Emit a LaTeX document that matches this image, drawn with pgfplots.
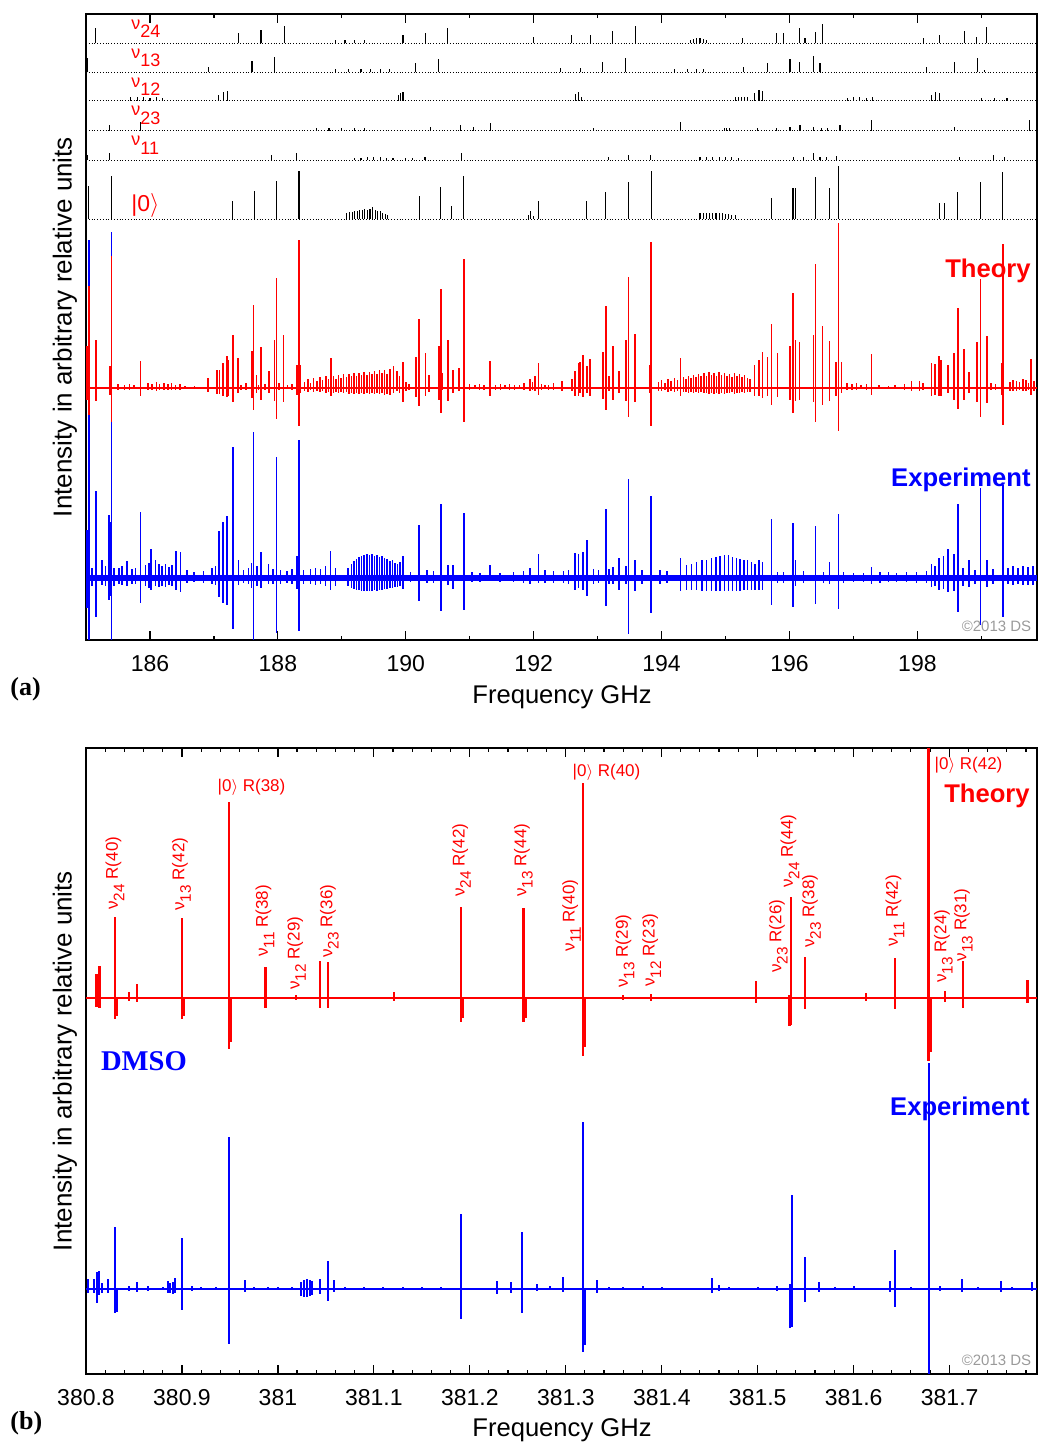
\documentclass[border=0pt]{standalone}
\usepackage{fontspec}
\setmainfont{Liberation Sans}
\newfontfamily\timesfont{Liberation Serif}
\usepackage{graphicx}
\usepackage{pgfplots}
\pgfplotsset{compat=1.18}

\definecolor{specred}{HTML}{FF0000}
\definecolor{specblue}{HTML}{0000FF}
\definecolor{credit}{HTML}{9A9A9A}

% nu with a lowered index: panel (a) rows and panel (b) line labels
\newcommand\va[1]{ν\raisebox{-0.48em}{#1}}
\newcommand\vb[1]{ν\raisebox{-0.38em}{\scalebox{0.9}{#1}}}

\pgfplotsset{
  nomark/.style={only marks, mark=*, mark size=0pt, mark options={draw=none, fill=none}},
  spec/.style={nomark, error bars/.cd, y dir=both, y explicit,
    error mark=none, error bar style={#1}},
  stick/.style={nomark, error bars/.cd, y dir=plus, y explicit,
    error mark=none, error bar style={black, line width=0.55pt}},
  panel/.style={
    scale only axis, width=475.5pt, height=313pt, anchor=south west,
    ymin=0, ymax=626, ytick=\empty,
    tick align=inside, major tick length=4.3pt, minor tick length=2.2pt,
    axis line style={line width=0.9pt},
    every tick/.style={black, line width=0.6pt},
    xticklabel style={font=\fontsize{11.5}{12}\selectfont, yshift=-4pt},
    /pgf/number format/assume math mode=true,
    scaled x ticks=false,
  },
}
\tikzset{
  lab/.style={text=specred, font=\fontsize{8.5}{9}\selectfont, inner sep=0pt},
  big/.style={font=\fontsize{12.8}{13}\selectfont\bfseries, inner sep=0pt},
}

\begin{document}
\begin{tikzpicture}
%% ---------------- panel (a) ----------------
\begin{axis}[panel, at={(43pt,401.5pt)},
  xmin=185, xmax=199.87,
  xtick={186,188,...,198}, minor xtick={185,187,...,199}]

% stick spectra
\addplot[black, densely dotted, line width=0.4pt] coordinates {(185,421) (199.87,421)};
\addplot[stick] table[x=x, y expr=421, y error plus=h] {
x h
185.044 32.7
185.398 42.7
187.294 18.3
187.628 27.7
187.977 37.7
188.331 47.7
189.08 6
189.12 7
189.16 7
189.20 8
189.24 8
189.28 9
189.32 9
189.36 10
189.40 9
189.44 10
189.48 12
189.52 9
189.56 8
189.60 8
189.64 6
189.68 5
189.72 4
190.211 22.7
190.549 31.7
190.721 12.7
190.909 42.7
191.92 4
191.945 7.7
192.00 3
192.076 17.7
192.831 17.7
193.128 26.7
193.482 36.7
193.836 47.7
194.60 6
194.65 6
194.70 6
194.75 6
194.80 6
194.85 6
194.90 6
194.95 6
195.00 5
195.05 5
195.10 4
195.15 4
195.716 21
196.055 31
196.091 31
196.409 41.7
196.622 31
196.763 52.7
198.351 16
198.430 16
198.633 26.7
198.987 36.7
199.336 47
};
\addplot[black, densely dotted, line width=0.4pt] coordinates {(185,480) (199.87,480)};
\addplot[stick] table[x=x, y expr=480, y error plus=h] {
x h
185.018 5
185.372 6.7
187.898 5
188.289 7.3
189.2 2.3
189.3 2.3
189.4 2.5
189.5 2.5
189.6 2.5
189.7 2.3
189.8 2.3
190.0 2
190.1 2
190.3 2.5
190.878 6.7
193.169 3.3
193.482 5
193.831 5
194.6 2.5
194.7 2.7
194.8 2.7
194.9 2.7
195.0 2.7
195.1 2.5
195.2 2.3
196.060 3.3
196.216 3.3
196.372 6.7
196.477 3.3
196.581 3.3
196.737 4
198.664 3.3
199.185 5
199.367 3
};
\addplot[black, densely dotted, line width=0.4pt] coordinates {(185,509.3) (199.87,509.3)};
\addplot[stick] table[x=x, y expr=509.3, y error plus=h] {
x h
185.372 5.7
185.852 9
188.6 2.3
188.8 2.5
189.0 2.5
189.2 2.3
189.35 2.3
190.383 4
190.852 5.7
191.060 4
191.320 7.3
192.935 2.3
194.289 9
194.98 2.5
195.02 2.5
195.06 2.3
195.5 2.3
195.8 2.3
196.008 4
196.164 5.7
196.372 4
196.5 2.5
196.6 2.5
196.789 5.7
197.284 10.7
198.586 4
199.758 10.7
};
\addplot[black, densely dotted, line width=0.4pt] coordinates {(185,539.3) (199.87,539.3)};
\addplot[stick] table[x=x, y expr=539.3, y error plus=h] {
x h
185.70 3.3
185.80 3.3
185.90 3.3
186.00 3
186.10 3.3
186.20 3
187.076 5.7
187.143 9
187.206 10
189.888 5.7
189.914 8
189.956 9
192.648 6.7
192.700 9
192.753 4
195.15 3.3
195.20 3.3
195.25 3.3
195.30 3.3
195.35 3.5
195.450 8
195.523 10.7
195.581 10
196.90 3
197.00 3.3
197.10 3.3
197.20 3
197.30 3.3
198.221 5.7
198.289 9
198.341 7.3
199.0 3
199.2 3
199.4 3
};
\addplot[black, densely dotted, line width=0.4pt] coordinates {(185,567.7) (199.87,567.7)};
\addplot[stick] table[x=x, y expr=567.7, y error plus=h] {
x h
185.018 14
186.909 5
187.596 11.7
187.951 15.7
188.9 3
189.1 3
189.3 3
189.45 3.3
189.6 3.3
189.75 3
190.159 9.7
190.518 13
192.414 4
192.727 4
193.081 10.7
193.440 14.7
194.2 3
194.4 3.3
194.55 3.3
194.65 3.3
195.279 5.7
195.654 9.7
196.008 13
196.154 10.7
196.372 16.7
196.477 9
198.143 5
198.575 10.7
198.935 14.7
199.05 2.5
};
\addplot[black, densely dotted, line width=0.4pt] coordinates {(185,596.7) (199.87,596.7)};
\addplot[stick] table[x=x, y expr=596.7, y error plus=h] {
x h
185.148 15
187.378 10
187.737 13.3
188.102 17.3
188.9 3
189.05 3.3
189.2 3.3
189.35 3
189.956 8.3
190.305 10.7
190.659 15
191.997 6.7
192.596 8.3
192.883 8.3
193.237 12.7
193.586 17.3
194.45 3
194.50 4
194.55 5
194.60 5
194.65 4
194.70 3
195.268 5
195.800 10.7
195.904 10.7
196.154 15
196.243 5
196.409 11.7
196.513 19.3
198.091 5
198.351 8.3
198.732 12.7
198.925 6.7
199.086 16.7
};

% experiment
\addplot[specblue, line width=3.4pt] coordinates {(185,62) (199.87,62)};
\addplot[spec={specblue, line width=0.75pt}] table[x=x, y expr=62, y error plus=hi, y error minus=lo] {
x hi lo
185.018 48.3 30
185.044 338.3 70
185.096 10 8
185.159 86.7 39
185.253 18.3 6.7
185.305 12 8
185.357 63.3 21.7
185.383 55.7 18.3
185.398 346 70
185.435 10 8
185.513 10 6
185.565 12 7
185.643 16.7 8.3
185.721 9 6
185.773 10 6
185.852 66.3 25
185.930 13 8
185.982 15 10
186.018 29.3 11.7
186.086 18.3 8.3
186.138 14 9
186.190 12 8
186.242 14 9
186.294 11 7
186.346 13 8
186.409 26.7 12.3
186.477 26.3 14.3
186.581 8 5
186.685 6 4
186.841 7 5
186.971 10 6
187.023 12 7
187.076 47.3 19
187.143 55.7 25
187.206 62.3 26.7
187.299 131 51
187.388 18.3 7
187.466 8 5
187.544 10 6
187.586 15 10
187.622 146.3 62
187.674 12 8
187.737 25.7 10
187.857 14 6
187.924 9 6
187.977 121 55
188.039 8 6
188.143 7 5
188.221 9 6
188.299 22.3 11
188.331 138 53.3
188.404 8 6
188.508 9 6
188.586 10 7
188.664 9 6
188.742 12 8
188.820 26.7 11.7
188.898 10 8
189.10 10 8
189.15 14 10
189.19 17 11
189.23 19 12
189.27 21 12
189.31 22 13
189.35 23 13
189.39 24 13
189.43 23 13
189.47 24 13
189.51 22 12
189.55 23 13
189.59 21 12
189.63 22 12
189.67 20 11
189.71 19 11
189.75 17 10
189.79 18 10
189.83 15 9
189.87 14 9
189.91 16 8
189.956 22.3 11
190.07 6 4
190.206 53.3 22.7
190.331 8 5
190.435 7 5
190.549 74.3 33.3
190.659 13.3 6.7
190.737 13.3 11
190.909 64.7 32.3
191.034 6 4
191.164 5 4
191.320 13.3 1.7
191.477 5 4
191.685 6 4
191.841 7 5
191.945 10 6
192.076 24.3 5
192.18 8 5
192.31 7 5
192.466 7 5
192.544 8 6
192.648 25 12.3
192.700 24.3 10
192.768 26 12
192.831 37.7 18.3
192.935 9 6
193.013 8 5
193.128 68.7 28
193.180 9.3 6
193.237 11 6
193.336 20.3 12.3
193.440 11.7 6
193.482 98.7 56
193.586 18.3 13
193.690 8 6
193.836 81.7 35
193.977 8 6
194.081 7 5
194.299 20.3 13
194.393 12.7 12
194.471 14.3 12
194.549 16 12
194.628 17.7 13
194.706 17.7 13
194.784 20 13
194.852 21 13
194.914 21.7 13
194.982 22.7 13
195.044 23.3 13
195.112 21 13
195.174 20 13
195.227 19.3 13
195.289 17.7 12
195.346 17.7 12
195.409 16 12
195.461 14.3 12
195.523 17.7 12
195.581 16 12
195.716 58.7 26.7
195.810 6 5
195.904 6 5
196.055 55.3 29
196.091 18.3 8
196.216 7 5
196.409 51.7 25.7
196.529 6 5
196.622 16 6
196.763 63.7 30.7
196.841 6 5
196.998 5 4
197.154 5 4
197.284 11 6
197.414 6 5
197.544 6 4
197.674 5 4
197.831 6 4
197.987 6 5
198.143 7 5
198.221 14.3 9
198.273 12 8
198.341 20 12
198.404 22 11
198.482 28.7 14
198.575 23.7 13
198.633 74.3 34
198.716 10 8
198.805 18.3 9
198.899 8 6
198.987 90.3 47.3
199.086 17.7 9
199.185 9 6
199.336 92.7 39
199.419 10 6
199.497 12 7
199.575 10 6
199.654 12 7
199.732 11 7
199.810 12 7
};

% theory
\addplot[specred, line width=0.9pt] coordinates {(185,252) (199.87,252)};
\addplot[spec={specred, line width=0.75pt}] table[x=x, y expr=252, y error plus=hi, y error minus=lo] {
x hi lo
185.018 42.3 11.7
185.044 101.7 26.7
185.159 48.3 13.3
185.372 21.7 6.7
185.398 132.3 34.3
185.50 4 2
185.60 3 2
185.68 4 2
185.75 3 1
185.852 27.3 8.3
185.97 5 2
186.03 4 2
186.10 6 3
186.15 4 2
186.22 5 2
186.28 4 2
186.34 5 2
186.40 3 2
186.47 4 2
186.55 2 1
186.70 2 1
186.909 10 4.3
187.049 18.3 5.7
187.091 18.3 5.7
187.143 25 7.7
187.206 32.3 9
187.227 27.7 8.3
187.299 53.3 14.3
187.378 30 5
187.42 3 2
187.50 5 2
187.596 37.3 10
187.622 83.3 22.3
187.664 13.3 5
187.70 3 2
187.737 41.3 11.7
187.80 4 2
187.862 17.3 5
187.951 48.3 13.3
187.977 110.3 31
188.02 5 2
188.091 53 14.3
188.15 3 1
188.22 4 2
188.299 22.7 6.7
188.331 147.7 38.3
188.352 23.3 5
188.42 6 3
188.47 9 4
188.51 5 2
188.56 10 4
188.61 7 3
188.66 11 4
188.70 8 3
188.75 12 5
188.79 9 4
188.831 30.3 7.7
188.87 12 5
188.91 9 4
188.95 13 5
188.99 10 4
189.03 14 5
189.07 11 4
189.11 14 6
189.15 12 5
189.19 15 6
189.23 12 5
189.27 15 6
189.31 13 5
189.35 16 6
189.39 13 5
189.43 16 6
189.47 14 5
189.51 17 6
189.55 14 5
189.59 18 6
189.63 15 5
189.67 18 7
189.71 14 6
189.75 19 7
189.810 21.7 5
189.862 16.7 3.3
189.90 12 5
189.956 26 14.3
190.00 6 3
190.05 4 2
190.159 31 9
190.206 69 18.3
190.305 35 8.3
190.362 13 3.7
190.518 41.7 11.7
190.549 99.3 25
190.576 15 1.7
190.659 48 12.7
190.737 18.3 5
190.836 20 3.3
190.909 129.3 34
191.00 4 2
191.08 3 1
191.15 4 2
191.22 3 2
191.320 27.3 7.7
191.40 3 2
191.48 4 2
191.55 3 1
191.62 4 2
191.70 3 2
191.78 3 1
191.85 5 2
191.945 9 3.3
191.98 6 2
192.023 11.7 3.3
192.076 25 7.3
192.12 4 2
192.18 3 1
192.232 3.3 2.3
192.310 5 2.3
192.440 7.3 3.3
192.596 9 3.3
192.648 16.7 7.7
192.700 25 7.7
192.727 25.7 5
192.768 32.7 9
192.831 21.7 5
192.883 29.3 7.7
193.081 35.7 11
193.128 82.3 21.7
193.180 12.3 3.3
193.237 41.7 11.7
193.336 16.7 5
193.440 47.7 13.3
193.482 111 29.3
193.586 54.3 14.3
193.810 23 5
193.836 145.7 38.3
193.95 6 3
194.00 8 3
194.05 5 2
194.10 9 4
194.15 7 3
194.20 10 4
194.25 8 3
194.299 30 8.3
194.34 11 4
194.38 9 4
194.42 12 5
194.46 10 4
194.50 13 5
194.54 11 4
194.58 14 5
194.62 12 4
194.66 15 5
194.70 12 5
194.74 16 6
194.78 13 5
194.82 15 6
194.86 12 5
194.90 16 6
194.94 13 5
194.98 15 6
195.02 12 5
195.06 14 5
195.10 11 4
195.14 15 6
195.18 12 5
195.22 14 5
195.26 11 4
195.30 13 5
195.34 10 4
195.38 9 4
195.450 23 7.7
195.523 28.3 8.3
195.581 36.3 10
195.654 30.7 8.3
195.716 64 17
195.810 35 9.3
196.008 41.7 11.7
196.055 95 25
196.091 47.7 13.3
196.154 45.7 11.7
196.372 53.3 14.3
196.409 123.7 34
196.513 62.3 17
196.622 47 13.3
196.727 26 7.7
196.763 165 43.3
196.815 26 5
196.90 5 2
196.98 4 2
197.05 5 2
197.12 3 1
197.20 4 2
197.284 34 6.7
197.40 3 1
197.55 2 1
197.65 3 1
197.80 4 2
197.909 6.7 3.3
198.029 6.7 3.3
198.09 5 2
198.221 25 7.7
198.273 24 6.7
198.341 31.7 8.3
198.367 28.3 7.7
198.482 22.7 5
198.575 35 11.7
198.633 80 20.7
198.732 39.3 11.7
198.805 16 5
198.935 46 14.3
198.987 109 29
199.086 52.3 15
199.15 5 2
199.22 4 2
199.315 25 6.7
199.336 144 37.3
199.45 6 3
199.497 8.3 3.3
199.55 7 3
199.60 6 2
199.654 9 3.3
199.70 8 3
199.74 5 2
199.779 29 6.7
199.82 7 3
};
\end{axis}

%% ---------------- panel (b) ----------------
\begin{axis}[panel, at={(43pt,34.5pt)},
  xmin=380.8, xmax=381.791,
  xtick={380.8,380.9,381,381.1,381.2,381.3,381.4,381.5,381.6,381.7},
  minor xtick={380.82,380.84,...,381.78},
  xticklabel style={/pgf/number format/.cd, fixed, precision=1}]

\addplot[specblue, line width=1.1pt] coordinates {(380.8,85) (381.791,85)};
\addplot[spec={specblue, line width=1pt}] table[x=x, y expr=85, y error plus=hi, y error minus=lo] {
x hi lo
380.802 10 4
380.808 9.7 4
380.811 16.7 14.3
380.814 18 6
380.817 6 4
380.823 10 3.7
380.830 62.3 23.7
380.832 0 23
380.845 3 2
380.853 7.3 3
380.865 3 2
380.880 2 1
380.885 8 4
380.888 6 4
380.891 7 5
380.893 10.7 4
380.900 51.3 21
380.910 3 2
380.920 2 1
380.935 2 1
380.949 151.7 55.3
380.966 9 3
380.975 2 1
380.990 2 1
381.000 2 1
381.015 2 1
381.024 7 7
381.027 9 7.7
381.030 10 8
381.033 9 7
381.036 8 6
381.044 10 5
381.052 28 12
381.058 9 3
381.070 2 1
381.090 2 1
381.110 2 1
381.130 2 1
381.150 2 1
381.170 2 1
381.191 75 30.3
381.228 8 5
381.243 7 4
381.254 56.7 23.7
381.270 5 2
381.283 3 1
381.297 11.7 3
381.318 166.7 62.7
381.320 0 56
381.332 9 4
381.345 2 1
381.360 2 1
381.380 3 1
381.400 2 1
381.452 11.3 4
381.460 4 2
381.470 2 1
381.500 2 1
381.520 3 2
381.534 5 39.3
381.536 93.7 37.7
381.549 31.7 12.7
381.564 7 3
381.580 2 1
381.600 3 1
381.638 7.7 3
381.643 38.7 17.7
381.660 2 1
381.678 226 85
381.690 3 2
381.713 10 3
381.730 2 1
381.753 8 3
381.765 2 1
381.786 6.7 2
};

\addplot[specred, line width=1pt] coordinates {(380.8,376) (381.791,376)};
\addplot[spec={specred, line width=1.1pt}] table[x=x, y expr=376, y error plus=hi, y error minus=lo] {
x hi lo
380.811 23.7 8.7
380.814 32.3 10.3
380.830 81.3 21.3
380.832 0 18
380.845 6.3 2.7
380.853 13.7 4.3
380.900 79.7 21.3
380.902 0 18
380.949 196.3 51.3
380.951 0 44
380.987 30.7 9.7
381.019 3 2
381.044 37 10.3
381.052 36 10.3
381.121 5.7 2.7
381.191 90.7 23.7
381.193 0 20
381.256 89.7 23.7
381.258 0 20
381.286 1.3 1
381.318 214.7 58
381.320 0 48.7
381.360 3 2
381.389 4 2.7
381.498 17.3 5.3
381.533 3 28
381.535 100.7 27
381.549 40.7 11.3
381.582 1.3 1
381.613 5.3 2.7
381.643 39.7 11.3
381.678 250 62.7
381.680 0 54
381.695 7.3 3.7
381.714 37 10.3
381.781 18 5.3
};
\end{axis}

%% ---------------- text ----------------
% panel (a)
\node[text=specred, font=\fontsize{9}{10}\selectfont, anchor=base west, inner sep=0pt] at (65.5pt,706.85pt) {\va{24}};
\node[text=specred, font=\fontsize{9}{10}\selectfont, anchor=base west, inner sep=0pt] at (65.5pt,692.35pt) {\va{13}};
\node[text=specred, font=\fontsize{9}{10}\selectfont, anchor=base west, inner sep=0pt] at (65.5pt,677.85pt) {\va{12}};
\node[text=specred, font=\fontsize{9}{10}\selectfont, anchor=base west, inner sep=0pt] at (65.5pt,663.5pt) {\va{23}};
\node[text=specred, font=\fontsize{9}{10}\selectfont, anchor=base west, inner sep=0pt] at (65.5pt,648.5pt) {\va{11}};
\node[text=specred, font=\fontsize{11.5}{12}\selectfont, anchor=base west, inner sep=0pt] at (65.5pt,615.5pt) {|0$\rangle$};
\node[big, text=specred, anchor=base east] at (515.5pt,582.85pt) {Theory};
\node[big, text=specblue, anchor=base east] at (515.5pt,478.15pt) {Experiment};
\node[text=credit, font=\fontsize{7.5}{8}\selectfont, anchor=base east, inner sep=0pt] at (515.8pt,405.5pt) {©2013 DS};
\node[rotate=90, anchor=base, font=\fontsize{13}{14}\selectfont, inner sep=0pt] at (35.85pt,558pt) {Intensity in arbitrary relative units};
\node[anchor=base, font=\fontsize{12.8}{13}\selectfont, inner sep=0pt] at (281pt,369.5pt) {Frequency GHz};
\node[anchor=base west, font=\fontsize{13}{14}\selectfont\timesfont\bfseries, inner sep=0pt] at (5pt,373.5pt) {(a)};

% panel (b)
\node[lab, rotate=90, anchor=west] at (57.5pt,266.5pt) {\vb{24} R(40)};
\node[lab, rotate=90, anchor=west] at (90.8pt,266pt) {\vb{13} R(42)};
\node[lab, anchor=base] at (125.75pt,325.5pt) {|0$\rangle$ R(38)};
\node[lab, rotate=90, anchor=west] at (132.5pt,243pt) {\vb{11} R(38)};
\node[lab, rotate=90, anchor=west] at (148.3pt,226.5pt) {\vb{12} R(29)};
\node[lab, rotate=90, anchor=west] at (164.7pt,242.5pt) {\vb{23} R(36)};
\node[lab, rotate=90, anchor=west] at (230.8pt,273pt) {\vb{24} R(42)};
\node[lab, rotate=90, anchor=west] at (261.7pt,273pt) {\vb{13} R(44)};
\node[lab, anchor=base] at (303.25pt,333pt) {|0$\rangle$ R(40)};
\node[lab, rotate=90, anchor=west] at (285.8pt,245.6pt) {\vb{11} R(40)};
\node[lab, rotate=90, anchor=west] at (312.5pt,227.5pt) {\vb{13} R(29)};
\node[lab, rotate=90, anchor=west] at (325.8pt,228pt) {\vb{12} R(23)};
\node[lab, rotate=90, anchor=west] at (389.2pt,235pt) {\vb{23} R(26)};
\node[lab, rotate=90, anchor=west] at (395pt,277.5pt) {\vb{24} R(44)};
\node[lab, rotate=90, anchor=west] at (405.8pt,247.5pt) {\vb{23} R(38)};
\node[lab, rotate=90, anchor=west] at (447.5pt,248pt) {\vb{11} R(42)};
\node[lab, anchor=base] at (484.25pt,336.5pt) {|0$\rangle$ R(42)};
\node[lab, rotate=90, anchor=west] at (471.7pt,230pt) {\vb{13} R(24)};
\node[lab, rotate=90, anchor=west] at (481.7pt,240.7pt) {\vb{13} R(31)};
\node[big, text=specred, anchor=base east] at (515pt,320.15pt) {Theory};
\node[big, text=specblue, anchor=base east] at (515pt,163.5pt) {Experiment};
\node[text=credit, font=\fontsize{7.5}{8}\selectfont, anchor=base east, inner sep=0pt] at (515.8pt,38.5pt) {©2013 DS};
\node[anchor=base west, text=specblue, font=\fontsize{14.3}{15}\selectfont\timesfont\bfseries, inner sep=0pt] at (50.3pt,186.15pt) {DMSO};
\node[rotate=90, anchor=base, font=\fontsize{13}{14}\selectfont, inner sep=0pt] at (35.85pt,191pt) {Intensity in arbitrary relative units};
\node[anchor=base, font=\fontsize{12.8}{13}\selectfont, inner sep=0pt] at (281pt,3pt) {Frequency GHz};
\node[anchor=base west, font=\fontsize{13}{14}\selectfont\timesfont\bfseries, inner sep=0pt] at (5pt,6.5pt) {(b)};

\pgfresetboundingbox
\path[use as bounding box] (0,0) rectangle (518.5pt,721.5pt);
\end{tikzpicture}
\end{document}
